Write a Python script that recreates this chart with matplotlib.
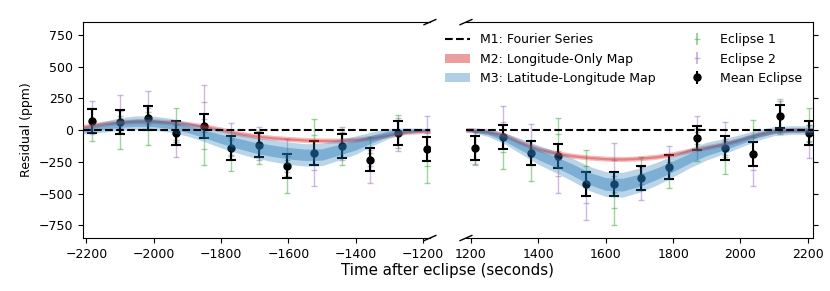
import matplotlib
matplotlib.use('Agg')
import matplotlib.pyplot as plt
import matplotlib.patches as mpatches
from matplotlib.lines import Line2D
import numpy as np

plt.rcParams['font.size'] = 9

t_left = [-2183, -2100, -2018, -1935, -1852, -1770, -1688, -1604, -1523, -1440, -1357, -1275, -1190]
mean_left = [70, 65, 96, -23, 34, -138, -117, -284, -180, -128, -232, -23, -151]
ecl1_left = [43, -18, 10, 40, -148, -196, -138, -365, -39, -143, -182, -10, -284]
ecl2_left = [97, 148, 177, -81, 221, -78, -104, -203, -313, -109, -284, -32, -23]

t_right = [1212, 1294, 1377, 1459, 1541, 1624, 1706, 1789, 1870, 1954, 2036, 2118, 2202]
mean_right = [-141, -55, -180, -201, -427, -424, -378, -292, -62, -143, -185, 107, -23]
ecl1_right = [-139, -175, -274, -34, -284, -614, -343, -326, -110, -214, -52, 102, 40]
ecl2_right = [-143, 60, -83, -362, -575, -234, -422, -255, -18, -70, -313, 112, -89]

err_mean = 94
err_ecl = 130

# model curves
tm_left = [-2210, -2150, -2100, -2050, -2000, -1950, -1900, -1850, -1800, -1750, -1700,
           -1650, -1600, -1550, -1500, -1450, -1400, -1350, -1300, -1250, -1200, -1180]
m2_left = [25, 50, 63, 70, 70, 62, 48, 30, 5, -25, -46, -60, -70, -78, -82, -82, -75, -60, -38, -15, -8, -6]
m3_left = [0, 25, 48, 58, 55, 38, 8, -30, -70, -105, -138, -162, -182, -195, -192, -155, -118, -68, -25, -5, 0, 0]
m3_sig1_left = [15, 22, 26, 28, 28, 27, 27, 30, 35, 40, 42, 45, 45, 45, 45, 42, 38, 30, 20, 12, 8, 8]
m3_sig2_left = [30, 42, 50, 55, 55, 55, 55, 60, 70, 78, 82, 85, 88, 88, 88, 82, 72, 55, 38, 22, 15, 15]

tm_right = [1185, 1200, 1250, 1300, 1350, 1400, 1450, 1500, 1550, 1600, 1650, 1700,
            1750, 1800, 1850, 1900, 1950, 2000, 2050, 2100, 2150, 2200, 2215]
m2_right = [0, 0, -12, -40, -100, -150, -180, -202, -216, -225, -228, -222, -210, -190, -160, -135, -110, -75, -35, -8, 0, 0, 0]
m3_right = [0, 0, -20, -65, -130, -195, -250, -310, -380, -425, -430, -395, -345, -285, -220, -165, -128, -85, -40, -8, 0, 0, 0]
m3_sig1_right = [8, 8, 15, 22, 30, 38, 42, 45, 48, 50, 50, 48, 45, 42, 38, 35, 30, 25, 20, 18, 16, 16, 16]
m3_sig2_right = [16, 16, 30, 44, 60, 75, 84, 90, 95, 98, 98, 95, 90, 84, 76, 70, 60, 50, 42, 36, 34, 34, 34]

m2_sig1 = 9
m2_sig2 = 20

fig = plt.figure(figsize=(8.3, 2.91), dpi=100)
ax1 = fig.add_axes([0.100, 0.182, 0.418, 0.742])
ax2 = fig.add_axes([0.5614, 0.182, 0.418, 0.742], sharey=ax1)


def draw(ax, t, mean, e1, e2, tm, m2, m3, s1, s2):
    ax.errorbar(t, e1, yerr=err_ecl, fmt='_', color='tab:green', alpha=0.45,
                ms=4, capsize=2.5, elinewidth=1, zorder=1)
    ax.errorbar(t, e2, yerr=err_ecl, fmt='_', color='tab:purple', alpha=0.45,
                ms=4, capsize=2.5, elinewidth=1, zorder=1)
    ax.errorbar(t, mean, yerr=err_mean, fmt='o', color='k', ms=5,
                capsize=3.5, elinewidth=1.5, capthick=1.5, zorder=2)
    tm = np.array(tm)
    m2 = np.array(m2)
    m3 = np.array(m3)
    s1 = np.array(s1)
    s2 = np.array(s2)
    ax.fill_between(tm, m2 - m2_sig2, m2 + m2_sig2, color='tab:red', alpha=0.3, lw=0, zorder=3)
    ax.fill_between(tm, m2 - m2_sig1, m2 + m2_sig1, color='tab:red', alpha=0.4, lw=0, zorder=3)
    ax.fill_between(tm, m3 - s2, m3 + s2, color='tab:blue', alpha=0.3, lw=0, zorder=3)
    ax.fill_between(tm, m3 - s1, m3 + s1, color='tab:blue', alpha=0.4, lw=0, zorder=3)
    ax.axhline(0, color='k', ls='--', lw=1.5, zorder=4)


draw(ax1, t_left, mean_left, ecl1_left, ecl2_left, tm_left, m2_left, m3_left,
     m3_sig1_left, m3_sig2_left)
draw(ax2, t_right, mean_right, ecl1_right, ecl2_right, tm_right, m2_right, m3_right,
     m3_sig1_right, m3_sig2_right)

ax1.set_xlim(-2210, -1180)
ax2.set_xlim(1185, 2215)
ax1.set_ylim(-850, 850)
ax1.set_yticks([-750, -500, -250, 0, 250, 500, 750])
ax1.set_xticks([-2200, -2000, -1800, -1600, -1400, -1200])
ax2.set_xticks([1200, 1400, 1600, 1800, 2000, 2200])

ax1.spines['right'].set_visible(False)
ax2.spines['left'].set_visible(False)
ax1.yaxis.tick_left()
ax2.yaxis.tick_right()
ax2.tick_params(labelright=False, labelleft=False)

# break marks
dx, dy = 0.017, 0.012
kw = dict(transform=ax1.transAxes, color='k', clip_on=False, lw=1)
ax1.plot((1 - dx, 1 + dx), (1 - dy, 1 + dy), **kw)
ax1.plot((1 - dx, 1 + dx), (-dy, dy), **kw)
kw.update(transform=ax2.transAxes)
ax2.plot((-dx, dx), (1 - dy, 1 + dy), **kw)
ax2.plot((-dx, dx), (-dy, dy), **kw)

ax1.set_ylabel('Residual (ppm)')
fig.text(0.539, 0.069, 'Time after eclipse (seconds)', ha='center', va='center', fontsize=10.8)

# legends
h1 = [Line2D([], [], color='k', ls='--', lw=1.5),
      mpatches.Patch(color='tab:red', alpha=0.45, lw=0),
      mpatches.Patch(color='tab:blue', alpha=0.35, lw=0)]
l1 = ['M1: Fourier Series', 'M2: Longitude-Only Map', 'M3: Latitude-Longitude Map']
leg1 = ax2.legend(h1, l1, loc='upper left', frameon=False,
                  bbox_to_anchor=(0.523, 0.924), bbox_transform=fig.transFigure)
ax2.add_artist(leg1)

e1h = ax2.errorbar([], [], yerr=[], fmt='_', color='tab:green', alpha=0.45, ms=4, capsize=2.5)
e2h = ax2.errorbar([], [], yerr=[], fmt='_', color='tab:purple', alpha=0.45, ms=4, capsize=2.5)
mh = ax2.errorbar([], [], yerr=[], fmt='o', color='k', ms=5, capsize=3.5, elinewidth=1.5, capthick=1.5)
ax2.legend([e1h, e2h, mh], ['Eclipse 1', 'Eclipse 2', 'Mean Eclipse'],
           loc='upper right', frameon=False)

fig.savefig('out.png', dpi=100)
